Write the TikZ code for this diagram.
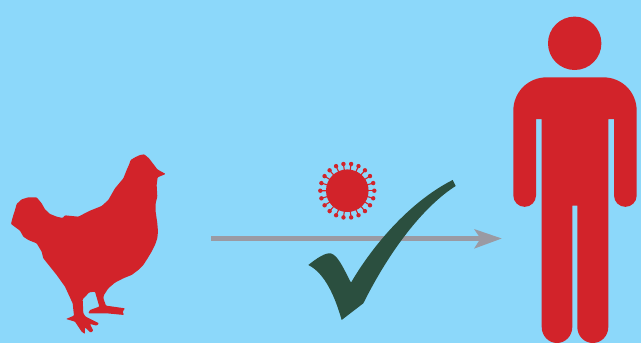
\documentclass[tikz,border=0pt]{standalone}
\usetikzlibrary{calc}
\definecolor{sky}{HTML}{8CD8FA}
\definecolor{redfill}{HTML}{D2232A}
\definecolor{greenfill}{HTML}{2B4F3F}
\definecolor{greyline}{HTML}{9A9AA3}
\tikzset{red shape/.style={fill=redfill,draw=none},
 check shape/.style={fill=greenfill,draw=none},
 arrow shape/.style={fill=greyline,draw=none},
 spike/.style={draw=redfill,line width=1.1pt}}
\begin{document}
\begin{tikzpicture}[x=1pt,y=-1pt]
\useasboundingbox (0,0) rectangle (641,343);
\fill[sky] (0,0) rectangle (641,343);
% chicken
\begin{scope}[shift={(0,140)},x=0.3333pt,y=-0.3333pt]
\fill[red shape,rounded corners=0.8pt] (388,72)--(392,60)--(405,52)--(420,45)--(433,43)--(447,55)--(460,72)--(472,88)--(497,102)--(473,112)--(470,135)--(472,170)--(467,190)--(467,215)--(472,250)--(474,275)--(472,295)--(465,315)--(455,335)--(443,355)--(430,375)--(415,390)--(395,405)--(370,415)--(345,428)--(325,445)--(312,465)--(310,475)--(318,497)--(375,505)--(368,515)--(372,525)--(320,520)--(265,520)--(270,510)--(298,500)--(285,455)--(268,457)--(248,478)--(250,520)--(257,530)--(297,550)--(290,557)--(270,552)--(280,572)--(272,578)--(255,562)--(255,582)--(245,575)--(225,545)--(198,537)--(222,527)--(218,490)--(195,440)--(170,405)--(150,380)--(130,355)--(125,335)--(110,310)--(85,300)--(70,290)--(60,272)--(33,252)--(38,232)--(45,210)--(50,192)--(65,178)--(85,172)--(110,172)--(125,190)--(135,208)--(150,222)--(170,230)--(188,234)--(195,226)--(235,230)--(270,212)--(305,198)--(325,180)--(345,145)--(370,115)--(380,90)--cycle;
\end{scope}
% virus
\fill[red shape] (347.3,190.7) circle (21.3);
\foreach \a in {0,16.36,...,350}{
 \draw[spike] (347.3,190.7) -- ++(\a:27);
 \fill[red shape] (347.3,190.7) ++(\a:27) circle (2.2);
}
% arrow
\coordinate (arrowstart) at (211,238.5);
\coordinate (arrowend) at (481,238.5);
\fill[arrow shape] ($(arrowstart)+(0,-2.7)$) rectangle ($(arrowend)+(0,2.7)$);
\fill[arrow shape] (474,229) -- (501.7,238.5) -- (474,248.7) -- (480.5,238.5) -- cycle;
% check mark
\begin{scope}[shift={(300,150)},x=0.3333pt,y=-0.3333pt]
\fill[check shape] (25,345) .. controls (50,325) and (75,308) .. (92,310) .. controls (115,315) and (135,365) .. (153,398) .. controls (210,300) and (320,160) .. (458,90) -- (467,108) .. controls (370,170) and (270,300) .. (190,460) -- (125,510) .. controls (105,440) and (75,370) .. (25,345) -- cycle;
\end{scope}
% person
\fill[red shape] (574.7,43.3) circle (26.7);
\fill[red shape] (547,77.3) -- (603,77.3) .. controls (622,77.3) and (636.7,92) .. (636.7,111) -- (636.7,195.5) arc (0:180:11.35) -- (614,119) -- (608.3,119) -- (608.3,327) arc (0:180:15.5 and 16) -- (577.3,205.7) -- (572.3,205.7) -- (572.3,327) arc (0:180:15.3 and 16) -- (541.7,119) -- (536,119) -- (536,195.5) arc (0:180:11.35) -- (513.3,111) .. controls (513.3,92) and (528,77.3) .. (547,77.3) -- cycle;
\end{tikzpicture}
\end{document}
